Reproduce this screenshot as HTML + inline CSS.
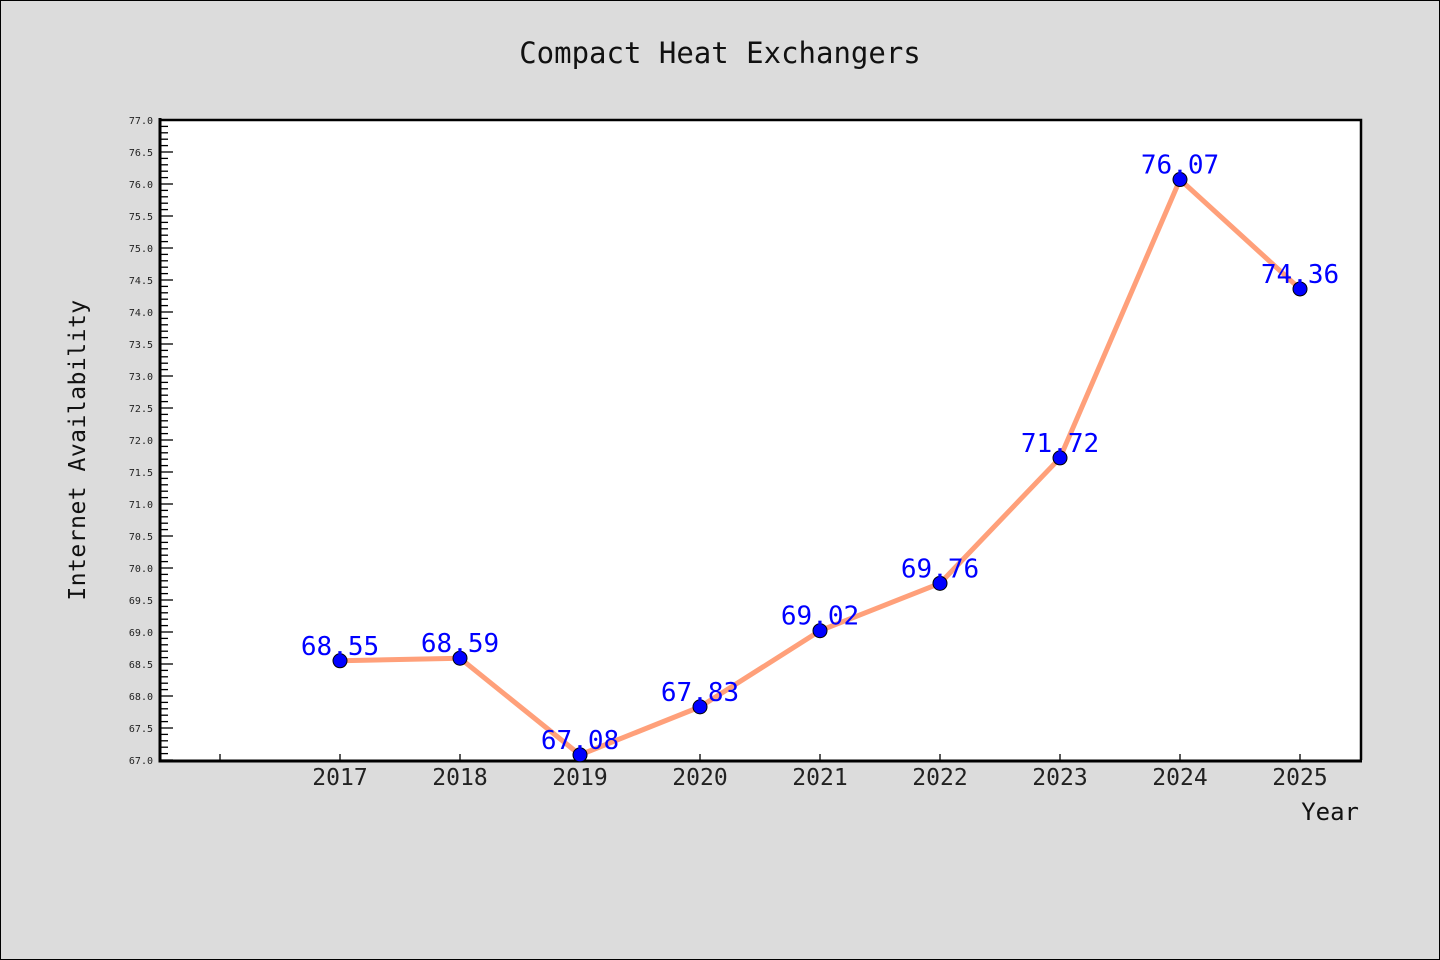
<!DOCTYPE html>
<html><head><meta charset="utf-8"><style>
html,body{margin:0;padding:0;background:#dcdcdc;}
svg{display:block;}
text{font-family:"DejaVu Sans Mono","Liberation Mono",monospace;}
</style></head><body>
<svg id="chart" width="1440" height="960" xmlns="http://www.w3.org/2000/svg">
<rect x="0.5" y="0.5" width="1439" height="959" fill="#dcdcdc" stroke="#000" stroke-width="1"/>
<text x="720" y="63" text-anchor="middle" font-size="29" fill="#111">Compact Heat Exchangers</text>
<rect x="160" y="120" width="1201" height="640" fill="#fff"/>
<g id="yticks"></g><g id="xticks"></g>
<path d="M160,120 H1361 V760" fill="none" stroke="#000" stroke-width="2.5"/>
<path d="M160,118 V761 H1362" fill="none" stroke="#000" stroke-width="3"/>
<g id="series"></g>
<text transform="translate(85,450) rotate(-90)" text-anchor="middle" font-size="23" fill="#111" letter-spacing="0.5">Internet Availability</text>
<text x="1359" y="820" text-anchor="end" font-size="24" fill="#111">Year</text>
</svg>
<script>
const years=[2017,2018,2019,2020,2021,2022,2023,2024,2025];
const values=[68.55,68.59,67.08,67.83,69.02,69.76,71.72,76.07,74.36];
const labels=["68.55","68.59","67.08","67.83","69.02","69.76","71.72","76.07","74.36"];
const yMin=67,yMax=77,xMin=2015.5,xMax=2025.5;
const NS="http://www.w3.org/2000/svg";
const X=v=>160+(v-xMin)/(xMax-xMin)*1200;
const Y=v=>760-(v-yMin)/(yMax-yMin)*640;
function mk(tag,attrs,parent){const e=document.createElementNS(NS,tag);for(const k in attrs)e.setAttribute(k,attrs[k]);parent.appendChild(e);return e;}
const yt=document.getElementById('yticks');
for(let i=0;i<=100;i++){const v=yMin+i*0.1;const y=Y(v);const major=i%5===0;
 const l=mk('line',{x1:160,x2:major?173:168,y1:y,y2:y,stroke:'#000','stroke-width':1.3},yt);
 
 
 if(major){const t=mk('text',{x:153,y:y+4,'text-anchor':'end','font-size':10,fill:'#222','font-family':'Liberation Sans, sans-serif'},yt);t.textContent=v.toFixed(1);
 
 }}
const xt=document.getElementById('xticks');
const tickYears=[2016].concat(years);
tickYears.forEach(yr=>{const x=X(yr);
 const l=mk('line',{x1:x,x2:x,y1:760,y2:754,stroke:'#000','stroke-width':1.3},xt);
 
 
 if(yr>=2017){const t=mk('text',{x:x,y:785,'text-anchor':'middle','font-size':23,fill:'#222'},xt);t.textContent=yr;
 
 }});
const s=document.getElementById('series');
const line=mk('polyline',{points:years.map((yr,i)=>X(yr)+','+Y(values[i])).join(' '),fill:'none',stroke:'#ffa07a','stroke-width':5,'stroke-linejoin':'round'},s);


years.forEach((yr,i)=>{
 const c=mk('circle',{cx:X(yr),cy:Y(values[i]),r:7,fill:'#0000ff',stroke:'#000','stroke-width':1},s);
 
 
 const t=mk('text',{x:X(yr),y:Y(values[i])-6,'text-anchor':'middle','font-size':26,fill:'#0000ff'},s);t.textContent=labels[i];
 
 
});
</script>
</body></html>
